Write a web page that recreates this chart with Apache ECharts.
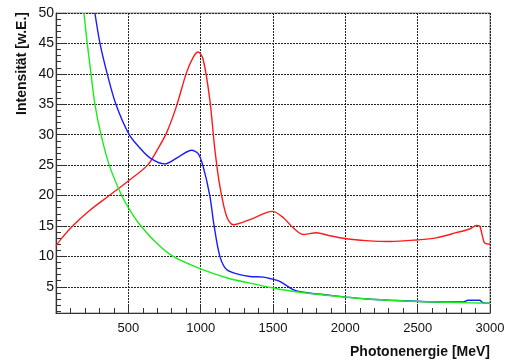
<!DOCTYPE html>
<html><head><meta charset="utf-8">
<script src="https://cdn.jsdelivr.net/npm/echarts@6/dist/echarts.min.js"></script>
<style>html,body{margin:0;padding:0;background:#fff}#c{width:517px;height:363px}</style>
</head><body><div id="c"></div>
<script>
var redX = [0, 40, 115, 230, 368, 500, 633, 702, 764, 833, 902, 950, 983, 1017, 1063, 1098, 1133, 1179, 1225, 1340, 1455, 1497, 1570, 1639, 1708, 1800, 1892, 2008, 2146, 2307, 2491, 2629, 2767, 2859, 2905, 2928, 2951, 2963, 3000];
var redY = [11.7, 13.0, 15.0, 17.5, 20.0, 22.4, 25.0, 27.6, 30.3, 34.7, 40.2, 42.8, 43.6, 42.4, 35.8, 27.6, 21.5, 16.6, 15.2, 16.05, 17.2, 17.4, 16.4, 14.7, 13.6, 13.9, 13.4, 12.9, 12.6, 12.45, 12.7, 13.05, 13.9, 14.5, 15.1, 15.0, 13.0, 12.2, 12.0];
var blueX = [269, 304, 354, 414, 506, 580, 649, 750, 856, 937, 983, 1017, 1063, 1093, 1133, 1179, 1271, 1340, 1432, 1490, 1547, 1639, 1708, 1846, 2008, 2146, 2307, 2491, 2629, 2813, 2848, 2928, 2951, 3000];
var blueY = [50, 45, 40, 35, 30, 27.8, 26.2, 25.2, 26.5, 27.45, 26.9, 24.8, 20.0, 15.0, 10.0, 7.84, 7.0, 6.7, 6.6, 6.3, 5.9, 4.55, 4.1, 3.73, 3.3, 3.0, 2.8, 2.62, 2.5, 2.5, 2.8, 2.8, 2.4, 2.3];
var greenX = [193, 216, 242, 269, 311, 368, 454, 511, 570, 695, 810, 1000, 1179, 1340, 1501, 1685, 2008, 2307, 2629, 3000];
var greenY = [50, 45, 40, 35, 30, 25, 20, 17.6, 15.5, 12.2, 10.0, 7.95, 6.5, 5.6, 4.8, 4.1, 3.3, 2.8, 2.5, 2.3];
var yMajor = [5, 10, 15, 20, 25, 30, 35, 40, 45, 50];
var yMinor = [1,2,3,4,5,6,7,8,9,10,11,12,13,14,15,16,17,18,19,20,21,22,23,24,25,26,27,28,29,30,31,32,33,34,35,36,37,38,39,40,41,42,43,44,45,46,47,48,49,50];
var xLabel = 'Photonenergie [MeV]';
var yLabel = 'Intensität [w.E.]';

function zip(a, b) { return a.map(function (v, i) { return [v, b[i]]; }); }
var font = '"Liberation Sans", Arial, sans-serif';
var chart = echarts.init(document.getElementById('c'));
function ser(name, x, y, color) {
  return { name: name, type: 'line', data: zip(x, y), showSymbol: false, smooth: 0.3,
    clip: true, lineStyle: { color: color, width: 1.4 }, itemStyle: { color: color }, animation: false };
}
chart.setOption({
  animation: false,
  grid: { left: 56, right: 27, top: 13, bottom: 50, show: true, borderColor: '#8a8a8a', borderWidth: 1 },
  xAxis: {
    type: 'value', min: 0, max: 3000, interval: 500,
    axisLine: { show: true, lineStyle: { color: '#333', width: 1.2 } },
    axisTick: { show: true, inside: true, length: 8, lineStyle: { color: '#333' } },
    minorTick: { show: true, splitNumber: 5, length: 5, lineStyle: { color: '#333' } },
    splitLine: { show: true, lineStyle: { color: '#222', type: [2, 1], width: 1 } },
    axisLabel: { fontFamily: font, fontSize: 13, color: '#111', margin: 9,
      formatter: function (v) { return v === 0 ? '' : String(v); } }
  },
  yAxis: [{
    type: 'value', min: 0.7, max: 50,
    axisLine: { show: true, lineStyle: { color: '#333', width: 1.2 } },
    axisTick: { show: true, inside: true, length: 9, customValues: yMajor, lineStyle: { color: '#333' } },
    splitLine: { show: true, lineStyle: { color: '#222', type: [2, 1], width: 1 } },
    axisLabel: { fontFamily: font, fontSize: 14, color: '#111', margin: 2, customValues: yMajor }
  }, {
    type: 'value', min: 0.7, max: 50, position: 'left',
    axisLine: { show: false },
    axisTick: { show: true, inside: true, length: 5, customValues: yMinor, lineStyle: { color: '#333' } },
    splitLine: { show: false },
    axisLabel: { show: false }
  }],
  graphic: [
    { type: 'text', x: 490, y: 352, style: { text: xLabel, font: 'bold 14px ' + font, fill: '#111', textAlign: 'right', textVerticalAlign: 'middle' } },
    { type: 'text', x: 22, y: 12, rotation: Math.PI / 2, style: { text: yLabel, font: 'bold 14px ' + font, fill: '#111', textAlign: 'right', textVerticalAlign: 'middle' } }
  ],
  series: [
    ser('rot', redX, redY, '#ff1a1a'),
    ser('blau', blueX, blueY, '#1a1aff'),
    ser('grün', greenX, greenY, '#1aee1a')
  ]
});
</script></body></html>
